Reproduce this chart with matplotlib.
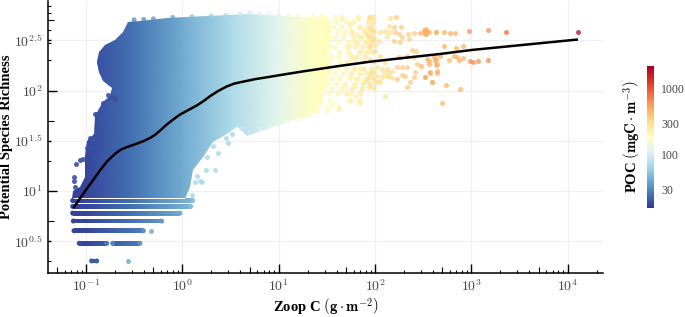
import numpy as np
import matplotlib
matplotlib.use("Agg")
import matplotlib.pyplot as plt
from matplotlib.cm import ScalarMappable
from matplotlib.colors import LogNorm
from matplotlib.path import Path

# all cloud / dot positions are log10(x), log10(y)
# gradient of POC against Zoop C
poc_x = [-1.25, -1.0, -0.5, 0.0, 0.5, 1.0, 1.3, 1.5, 1.7, 2.0, 2.5, 3.0, 3.4, 4.2]
poc_val = [17, 18, 26, 42, 70, 125, 175, 190, 230, 280, 420, 650, 900, 1800]

# outline of the solid part of the cloud
cloud_x = [-1.149, -1.138, -1.062, -1.01, -1.01, -0.986, -0.913, -0.906, -0.855, -0.82, -0.751, -0.734,
           -0.82, -0.868, -0.882, -0.862, -0.803, -0.7, -0.613, -0.58, -0.561, -0.44, -0.163, 0.252, 0.701, 1.047,
           1.259, 1.5, 1.53, 1.5, 1.53, 1.48, 1.45, 1.362, 1.259, 1.12, 1.0, 0.874, 0.667,
           0.563, 0.494, 0.407, 0.321, 0.217, 0.113, 0.079, 0.044, 0.027]
cloud_y = [0.914, 1.0, 1.037, 1.136, 1.336, 1.502, 1.568, 1.75, 1.834, 1.883, 1.95, 2.026,
           2.099, 2.182, 2.282, 2.381, 2.458, 2.504, 2.58, 2.64, 2.68, 2.697, 2.723, 2.74, 2.763, 2.747,
           2.73, 2.73, 2.6, 2.4, 2.2, 2.0, 1.86, 1.767, 1.734, 1.70, 1.66, 1.618, 1.551,
           1.651, 1.585, 1.535, 1.485, 1.336, 1.203, 1.037, 0.97, 0.914]

# dots that roughen the cloud edge
edge_x = [-0.5, -0.4, -0.3, -0.1, 0.1, 0.3, 0.45, 0.6, 0.7, 0.8, 0.9, 1.0, 1.1, 1.2, 1.35, 1.45,
          0.55, 0.62, 0.7, 0.8, 0.9, 1.0, 1.1, 1.2, 1.3, 1.4, 1.5, 1.56]
edge_y = [2.705, 2.71, 2.715, 2.73, 2.735, 2.745, 2.75, 2.76, 2.775, 2.76, 2.765, 2.755, 2.745, 2.75, 2.735, 2.74,
          1.645, 1.62, 1.585, 1.62, 1.64, 1.67, 1.695, 1.72, 1.745, 1.79, 1.80, 1.86]
edge_poc = [28, 30, 32, 38, 50, 62, 70, 88, 98, 108, 118, 128, 145, 165, 182, 190,
            78, 88, 98, 108, 118, 128, 145, 165, 178, 185, 190, 200]

# low richness values sit on whole numbers: (richness, start, end)
row_vals = [2, 3, 3, 4, 5, 6, 7, 8]
row_start = [-0.941, -1.07, -0.723, -1.124, -1.131, -1.138, -1.138, -1.138]
row_end = [-0.889, -0.785, -0.44, -0.405, -0.215, -0.025, 0.086, 0.107]
row_start_poc = [22, 19, 30, 18, 18, 18, 18, 18]
row_end_poc = [22, 27, 34, 33, 36, 42, 50, 52]

# separate dots by colour group
left_x = [-1.104, -1.062, -1.028, -1.124, -1.124, -0.958, -0.986, -0.924, -0.924, -0.958, -0.906, -0.882, -0.82,
          -0.768, -0.699, -0.734, -1.114]
left_y = [1.269, 1.309, 1.319, 1.136, 1.103, 1.435, 1.429, 1.336, 1.518, 1.528, 1.767, 1.767, 1.873,
          1.96, 1.917, 1.933, 1.037]
low_x = [0.148, 0.183, 0.131, 0.2, 0.241, 0.252, 0.338, 0.373, 0.321, 0.47, 0.511, 0.452, 0.096]
low_y = [1.153, 1.103, 1.087, 1.087, 1.203, 1.336, 1.203, 1.375, 1.452, 1.475, 1.568, 1.528, 0.954]
row_dot_x = [-0.56, -0.329]
row_dot_y = [0.301, 0.602]

# dense band of dots just right of the solid part, read row by row
band_y = [2.731, 2.681, 2.631, 2.581, 2.532, 2.482, 2.432, 2.382, 2.332, 2.283, 2.216, 2.166, 2.117, 2.067, 2.017,
          1.967, 1.901, 1.834]
band_x = [[1.484, 1.587, 1.656, 1.829, 1.95, 1.985],
          [1.535, 1.605, 1.708, 1.778, 1.933, 1.985],
          [1.518, 1.57, 1.656, 1.743, 1.847, 1.933, 1.968],
          [1.535, 1.622, 1.691, 1.76, 1.899, 1.968],
          [1.535, 1.587, 1.674, 1.778, 1.847, 1.933, 1.985],
          [1.518, 1.622, 1.726, 1.812, 1.916, 1.968],
          [1.535, 1.587, 1.708, 1.795, 1.881, 1.95],
          [1.518, 1.639, 1.726, 1.847, 1.933, 1.985],
          [1.553, 1.622, 1.76, 1.812, 1.899],
          [1.535, 1.639, 1.743, 1.881, 1.985],
          [1.535, 1.622, 1.708, 1.795, 1.881, 1.968],
          [1.518, 1.587, 1.674, 1.76, 1.847, 1.95],
          [1.553, 1.639, 1.743, 1.812, 1.916, 1.985],
          [1.518, 1.605, 1.691, 1.795, 1.881],
          [1.553, 1.656, 1.76, 1.864],
          [1.535, 1.622, 1.743, 1.847],
          [1.535, 1.743, 1.847],
          [1.518, 1.622]]
band_edges = [1.55, 1.65, 1.75, 1.85, 1.95]
band_poc = [190, 205, 225, 245, 270, 295]

a_x = [1.656, 1.743, 1.819, 1.829, 1.76, 1.812, 1.881, 1.864, 1.777, 1.726, 1.819, 1.898, 1.743, 1.829, 1.898, 1.708,
       1.795, 1.881, 1.777, 1.847, 1.898, 1.743, 1.819, 1.881, 1.691, 1.777, 1.864, 1.743, 1.847, 1.701, 1.622, 1.795]
a_y = [2.713, 2.664, 2.713, 2.63, 2.581, 2.564, 2.614, 2.531, 2.498, 2.448, 2.464, 2.481, 2.365, 2.381, 2.381, 2.282,
       2.315, 2.298, 2.215, 2.215, 2.182, 2.149, 2.116, 2.099, 2.033, 2.033, 2.026, 1.90, 1.877, 1.966, 1.817, 1.95]
b_x = [1.933, 1.95, 1.95, 1.985, 1.933, 1.985, 2.054, 2.106, 2.14, 2.123, 2.158, 2.037, 1.95, 2.002, 2.054, 2.106, 1.95,
       2.019, 2.071, 2.123, 2.175, 1.985, 1.933, 2.019, 2.071, 2.123, 2.175, 1.95, 2.002, 1.985, 1.933, 2.106, 2.158,
       2.14, 2.054, 1.92, 1.97, 1.94, 2.0, 1.96, 1.92, 2.03, 2.09, 2.15]
b_y = [2.73, 2.723, 2.614, 2.597, 2.547, 2.514, 2.581, 2.591, 2.647, 2.547, 2.581, 2.498, 2.448, 2.398, 2.348, 2.282,
       2.315, 2.232, 2.215, 2.215, 2.199, 2.182, 2.132, 2.149, 2.139, 2.149, 2.126, 2.066, 2.083, 2.026, 2.033, 1.95,
       2.723, 2.149, 2.083, 2.56, 2.50, 2.44, 2.45, 2.19, 2.10, 2.10, 2.18, 2.19]
c_x = [2.217, 2.199, 2.272, 2.21, 2.244, 2.279, 2.338, 2.4, 2.348, 2.262, 2.192, 2.383, 2.428, 2.331, 2.4, 2.244,
       2.434, 2.227, 2.279, 2.331, 2.417, 2.4, 2.365, 2.331, 2.279, 2.227, 2.313]
c_y = [2.73, 2.637, 2.637, 2.581, 2.564, 2.531, 2.564, 2.577, 2.514, 2.481, 2.498, 2.405, 2.391, 2.348, 2.332, 2.338,
       2.265, 2.232, 2.239, 2.232, 2.182, 2.132, 2.083, 2.039, 2.159, 2.116, 2.149]
d_x = [2.504, 2.538, 2.521, 2.635, 2.538, 2.555, 2.632, 2.642, 2.573, 2.521, 2.642, 2.594, 2.469, 2.504, 2.531, 2.531,
       2.555, 2.635, 2.711, 2.78, 2.825, 2.711, 2.836, 2.908, 2.607, 2.676, 2.555, 2.625, 2.632, 2.763, 2.815, 2.849,
       2.867, 2.915, 2.573, 2.642, 2.521, 2.593, 2.739, 2.884, 2.694, 2.476]
d_y = [2.604, 2.597, 2.564, 2.587, 2.315, 2.265, 2.315, 2.265, 2.182, 2.139, 2.192, 2.086, 2.571, 2.598, 2.614, 2.565,
       2.588, 2.588, 2.588, 2.578, 2.578, 2.448, 2.422, 2.448, 2.339, 2.342, 2.299, 2.292, 2.259, 2.309, 2.342, 2.332,
       2.306, 2.329, 2.173, 2.179, 2.14, 2.083, 2.06, 2.013, 1.877, 2.249]
e_x = [2.977, 3.174, 2.988, 3.022, 3.071, 3.174]
e_y = [2.598, 2.604, 2.292, 2.282, 2.292, 2.309]
f_x = [3.358]
f_y = [2.585]
g_x = [4.108]
g_y = [2.588]

dot_groups = [(left_x, left_y, 20, 0.9), (low_x, low_y, 68, 0.8), (row_dot_x, row_dot_y, 40, 0.8), (a_x, a_y, 235, 0.75),
              (b_x, b_y, 300, 0.75), (c_x, c_y, 370, 0.75), (d_x, d_y, 480, 0.75), (e_x, e_y, 640, 0.75),
              (f_x, f_y, 850, 0.75), (g_x, g_y, 1900, 0.75)]

# fitted line
fit_x = [-1.124, -1.05, -0.993, -0.92, -0.855, -0.78, -0.699, -0.64, -0.578, -0.49, -0.405, -0.34, -0.284, -0.22, -0.163,
         -0.09, -0.025, 0.06, 0.148, 0.22, 0.286, 0.37, 0.459, 0.54, 0.632, 0.75, 0.874, 1.05,
         1.259, 1.605, 1.95, 2.296, 2.677, 3.005, 4.094]
fit_y = [0.838, 0.94, 1.02, 1.115, 1.203, 1.295, 1.369, 1.41, 1.435, 1.465, 1.495, 1.525, 1.558, 1.61, 1.661,
         1.715, 1.76, 1.805, 1.85, 1.895, 1.943, 1.995, 2.04, 2.07, 2.089, 2.113, 2.132, 2.16,
         2.192, 2.242, 2.288, 2.325, 2.365, 2.405, 2.508]

cb_ticks = [30, 100, 300, 1000]
x_major = [0.1, 1, 10, 100, 1000, 10000]
x_labels = [r"$10^{-1}$", r"$10^{0}$", r"$10^{1}$", r"$10^{2}$", r"$10^{3}$", r"$10^{4}$"]
y_major = [10**0.5, 10, 10**1.5, 100, 10**2.5]
y_labels = [r"$10^{0.5}$", r"$10^{1}$", r"$10^{1.5}$", r"$10^{2}$", r"$10^{2.5}$"]
y_minor = [2, 5, 20, 50, 200, 300, 400, 500, 600, 700]

plt.rcParams["font.family"] = ["Liberation Serif", "DejaVu Serif"]
plt.rcParams["mathtext.fontset"] = "cm"

W, H = 685, 317
fig = plt.figure(figsize=(W / 100, H / 100), dpi=100)
ax = fig.add_axes([48 / W, 44 / H, 555 / W, 272 / H])
ax.set_xscale("log")
ax.set_yscale("log")
ax.set_xlim(10**-1.394, 10**4.366)
ax.set_ylim(10**0.181, 10**2.893)

norm = LogNorm(15.9, 2180)
cmap = plt.get_cmap("RdYlBu_r")

# gradient clipped to the cloud and the rows
edges_x = 10 ** np.array(poc_x)
verts = list(zip(10 ** np.array(cloud_x), 10 ** np.array(cloud_y)))
verts.append(verts[0])
codes = [Path.MOVETO] + [Path.LINETO] * (len(cloud_x) - 1) + [Path.CLOSEPOLY]
half = 10**0.024
for v, s, e in zip(row_vals, row_start, row_end):
    s, e = 10**s, 10**e
    verts += [(s, v / half), (e, v / half), (e, v * half), (s, v * half), (s, v / half)]
    codes += [Path.MOVETO, Path.LINETO, Path.LINETO, Path.LINETO, Path.CLOSEPOLY]
mesh = ax.pcolormesh(edges_x, [1, 1000], np.array([poc_val, poc_val]), shading="gouraud",
                     norm=norm, cmap=cmap, zorder=2)
mesh.set_clip_path(Path(verts, codes), transform=ax.transData)

# round ends of the rows
rows = np.array(row_vals, dtype=float)
ax.scatter(10 ** np.array(row_start), rows, s=13, c=row_start_poc, norm=norm, cmap=cmap, linewidths=0, zorder=3)
ax.scatter(10 ** np.array(row_end), rows, s=13, c=row_end_poc, norm=norm, cmap=cmap, linewidths=0, zorder=3)

ax.scatter(10 ** np.array(edge_x), 10 ** np.array(edge_y), s=13, c=edge_poc, norm=norm, cmap=cmap, alpha=0.7,
           linewidths=0, zorder=3)

for ys, xs in zip(band_y, band_x):
    pocs = [band_poc[i] for i in np.digitize(xs, band_edges)]
    ax.scatter(10 ** np.array(xs), np.full(len(xs), 10**ys), s=15, c=pocs, norm=norm, cmap=cmap, alpha=0.75,
               linewidths=0, zorder=3)

for xs, ys, poc, a in dot_groups:
    ax.scatter(10 ** np.array(xs), 10 ** np.array(ys), s=13, color=cmap(norm(poc)), alpha=a, linewidths=0, zorder=3)

ax.plot(10 ** np.array(fit_x), 10 ** np.array(fit_y), color="black", lw=1.8, zorder=4)

# axes
for side in ["top", "right"]:
    ax.spines[side].set_visible(False)
ax.spines["left"].set_linewidth(1.1)
ax.spines["bottom"].set_linewidth(1.1)
ax.set_xticks(x_major, x_labels)
ax.set_yticks(y_major, y_labels)
x_minor = [m * 10.0**k for k in range(-2, 5) for m in [2, 3, 4, 5, 6, 7, 8, 9]]
x_minor = [v for v in x_minor if v < 10**4.366 and v > 10**-1.394]
ax.set_xticks(x_minor, minor=True)
ax.set_yticks(y_minor, minor=True)
ax.tick_params(which="major", direction="in", length=6.5, width=1.0, labelsize=10, labelcolor="#444444", pad=4)
ax.tick_params(which="minor", direction="in", length=2.2, width=0.8, labelbottom=False, labelleft=False)
for t, v in zip(ax.xaxis.get_minor_ticks(), x_minor):
    if abs(v / 10 ** np.floor(np.log10(v) + 1e-9) - 5) < 1e-6:
        t.tick1line.set_markersize(4)
for t, v in zip(ax.yaxis.get_minor_ticks(), y_minor):
    if v in (5, 50, 500):
        t.tick1line.set_markersize(4)
# the half decade ticks are short ones
for t, v in zip(ax.yaxis.get_major_ticks(), y_major):
    if v not in (10, 100):
        t.tick1line.set_markersize(2.2)
ax.grid(which="major", color="#f0f0f0", lw=0.9, zorder=0)
ax.set_axisbelow(True)

fig.text(326 / W, 1 - 307 / H, r"Zoop C $\left(\mathbf{g\cdot m^{-2}}\right)$", ha="center", va="center",
         fontsize=10.5, fontweight="bold")
fig.text(7 / W, 1 - 137 / H, "Potential Species Richness", rotation=90, ha="center", va="center",
         fontsize=10.5, fontweight="bold")

# colour bar
cax = fig.add_axes([647 / W, 1 - 208 / H, 7 / W, 142 / H])
cb = fig.colorbar(ScalarMappable(norm=norm, cmap=cmap), cax=cax)
cb.outline.set_visible(False)
cb.set_ticks(cb_ticks, labels=[str(v) for v in cb_ticks])
cb.minorticks_off()
cax.tick_params(length=0, labelsize=8.5, labelcolor="#444444", pad=5)
fig.text(632 / W, 1 - 137 / H, r"POC $\left(\mathbf{mgC\cdot m^{-3}}\right)$", rotation=90, ha="center", va="center",
         fontsize=10.5, fontweight="bold")

fig.savefig("out.png", dpi=100)
